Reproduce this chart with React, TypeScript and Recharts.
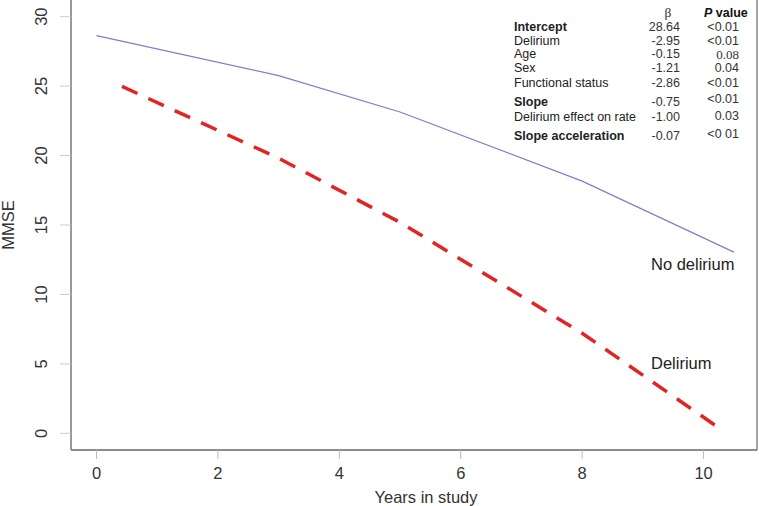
import React from 'react'
import { LineChart, Line, XAxis, YAxis, ReferenceLine } from 'recharts'

// fitted trajectories
const noDelYears = [0, 3, 5, 8, 10.5]
const noDelMmse = [28.64, 25.76, 23.14, 18.16, 13.05]
const delYears = [0.42, 3, 5, 8, 10.25]
const delMmse = [24.98, 19.81, 15.19, 7.21, 0.4]

const xTicks = [0, 2, 4, 6, 8, 10]
const yTicks = [0, 5, 10, 15, 20, 25, 30]

// coefficient table (top right)
const termNames = ['Intercept', 'Delirium', 'Age', 'Sex', 'Functional status', 'Slope', 'Delirium effect on rate', 'Slope acceleration']
const betaValues = ['28.64', '-2.95', '-0.15', '-1.21', '-2.86', '-0.75', '-1.00', '-0.07']
const pValues = ['<0.01', '<0.01', '0.08', '0.04', '<0.01', '<0.01', '0.03', '<0 01']
const boldTerms = ['Intercept', 'Slope', 'Slope acceleration']

const noDelData = noDelYears.map((x, i) => ({ x, y: noDelMmse[i] }))
const delData = delYears.map((x, i) => ({ x, y: delMmse[i] }))

const FONT = '"Liberation Sans", Arial, Helvetica, sans-serif'
const rowTop = [26.5, 40.5, 53.5, 68, 83, 102, 117, 136]
const pTop = [26.5, 40.5, 53.5, 68, 83, 99, 116, 134]

function YTick(props: any) {
  const { x, y, payload } = props
  const cx = x - 17
  return (
    <text
      x={cx}
      y={y}
      transform={`rotate(-90, ${cx}, ${y})`}
      textAnchor="middle"
      dominantBaseline="central"
      fontSize={16.5}
      fill="#333"
      fontFamily={FONT}
    >
      {payload.value}
    </text>
  )
}

const cell: React.CSSProperties = {
  position: 'absolute',
  transform: 'translateY(-50%)',
  fontSize: 12.5,
  lineHeight: 1,
  color: '#222',
  whiteSpace: 'nowrap',
}

export default function App() {
  return (
    <div style={{ position: 'absolute', left: 0, top: 0, width: 759, height: 506, background: '#fff', fontFamily: FONT }}>
      <LineChart width={759} height={506} margin={{ top: 0, right: 2, bottom: 0, left: 0 }}>
        <XAxis
          type="number"
          dataKey="x"
          domain={[-0.42, 10.88]}
          ticks={xTicks}
          allowDataOverflow
          height={56}
          axisLine={{ stroke: '#666', strokeWidth: 1.5 }}
          tickLine={{ stroke: '#bbb' }}
          tickSize={9}
          tickMargin={8}
          tick={{ fontSize: 16.5, fill: '#333', fontFamily: FONT }}
        />
        <YAxis
          type="number"
          domain={[-1.2, 31.2]}
          ticks={yTicks}
          allowDataOverflow
          width={71}
          axisLine={{ stroke: '#999', strokeWidth: 2 }}
          tickLine={{ stroke: '#ccc' }}
          tickSize={11}
          tick={<YTick />}
        />
        <ReferenceLine x={10.88} stroke="#888" strokeWidth={1.5} />
        <Line
          data={noDelData}
          dataKey="y"
          type="linear"
          stroke="#7a80c8"
          strokeWidth={1.2}
          dot={false}
          isAnimationActive={false}
        />
        <Line
          data={delData}
          dataKey="y"
          type="linear"
          stroke="#e22424"
          strokeWidth={3.5}
          strokeDasharray="17 12"
          dot={false}
          isAnimationActive={false}
        />
      </LineChart>

      {/* axis titles */}
      <div style={{ position: 'absolute', left: 8, top: 225, transform: 'translate(-50%, -50%) rotate(-90deg)', fontSize: 16.5, lineHeight: 1, color: '#333', whiteSpace: 'nowrap' }}>
        MMSE
      </div>
      <div style={{ position: 'absolute', left: 426, top: 497, transform: 'translate(-50%, -50%)', fontSize: 16.5, lineHeight: 1, color: '#333', whiteSpace: 'nowrap' }}>
        Years in study
      </div>

      {/* series labels */}
      <div style={{ position: 'absolute', left: 651, top: 264, transform: 'translateY(-50%)', fontSize: 16.5, lineHeight: 1, color: '#222', whiteSpace: 'nowrap' }}>
        No delirium
      </div>
      <div style={{ position: 'absolute', left: 651, top: 363, transform: 'translateY(-50%)', fontSize: 16.5, lineHeight: 1, color: '#222', whiteSpace: 'nowrap' }}>
        Delirium
      </div>

      {/* coefficient table */}
      <div style={{ ...cell, left: 668, top: 13, transform: 'translate(-50%, -50%)', fontSize: 13.5, color: '#333', fontFamily: '"Liberation Serif", serif' }}>
        β
      </div>
      <div style={{ ...cell, left: 704, top: 13, color: '#111', fontWeight: 'bold' }}>
        <span style={{ fontStyle: 'italic' }}>P</span> value
      </div>
      {termNames.map((name, i) => (
        <React.Fragment key={name}>
          <div style={{ ...cell, left: 514, top: rowTop[i], fontWeight: boldTerms.includes(name) ? 'bold' : 'normal' }}>
            {name}
          </div>
          <div style={{ ...cell, right: 759 - 680, top: rowTop[i], color: '#333' }}>
            {betaValues[i]}
          </div>
          <div
            style={{
              ...cell,
              right: 759 - 739,
              top: pTop[i],
              color: '#333',
              fontSize: pValues[i] === '0.08' ? 13 : 12.5,
              fontFamily: pValues[i] === '0.08' ? '"Liberation Serif", serif' : FONT,
            }}
          >
            {pValues[i]}
          </div>
        </React.Fragment>
      ))}
    </div>
  )
}
